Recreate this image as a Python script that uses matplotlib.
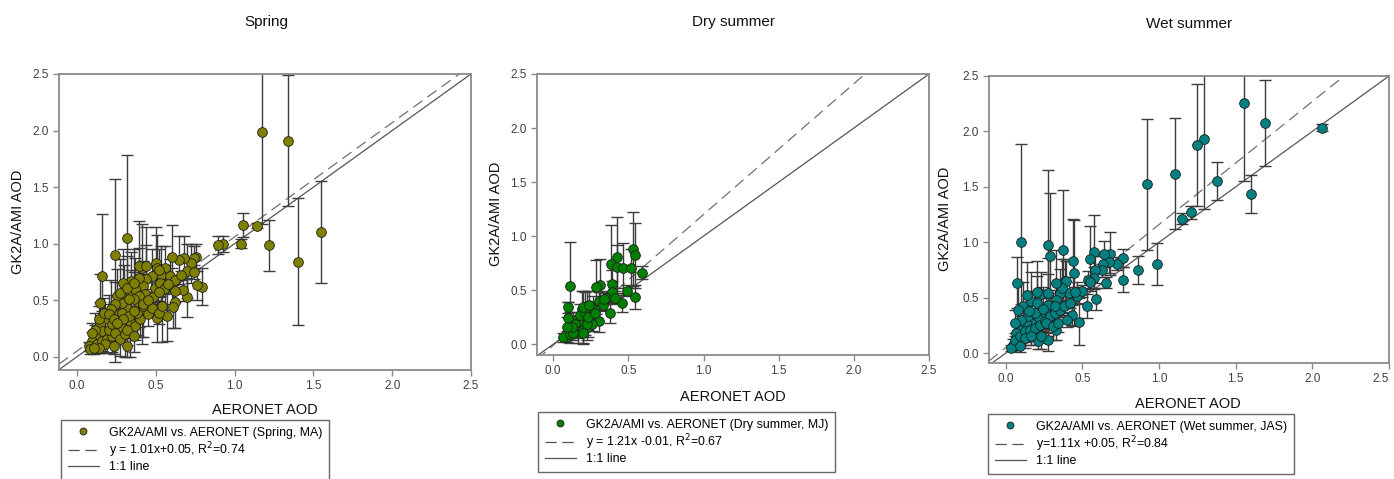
import numpy as np
import matplotlib
matplotlib.use("Agg")
import matplotlib.pyplot as plt
from matplotlib.lines import Line2D

plt.rcParams['font.family'] = ['Liberation Sans', 'DejaVu Sans']

# ---------------- data ----------------
titles = ["Spring", "Dry summer", "Wet summer"]
legend_point_labels = ["GK2A/AMI vs. AERONET (Spring, MA)",
                       "GK2A/AMI vs. AERONET (Dry summer, MJ)",
                       "GK2A/AMI vs. AERONET (Wet summer, JAS)"]
legend_fit_labels = ["y = 1.01x+0.05, R$^2$=0.74",
                     "y = 1.21x -0.01, R$^2$=0.67",
                     "y=1.11x +0.05, R$^2$=0.84"]
fit_slopes = [1.01, 1.21, 1.11]
fit_intercepts = [0.05, -0.01, 0.05]
tick_values = [0.0, 0.5, 1.0, 1.5, 2.0, 2.5]
tick_labels = ["0.0", "0.5", "1.0", "1.5", "2.0", "2.5"]

spring_x = [1.174, 1.339, 1.548, 1.405, 1.216, 1.144, 1.055, 1.04, 0.925, 0.895,
            0.79, 0.764, 0.755, 0.745, 0.72, 0.70, 0.745, 0.70, 0.675, 0.68,
            0.648, 0.60, 0.62, 0.61, 0.57, 0.51, 0.315, 0.243, 0.159, 0.50,
            0.51, 0.41, 0.39, 0.44, 0.56, 0.534, 0.59, 0.475, 0.437, 0.42,
            0.34, 0.29, 0.295, 0.34, 0.37, 0.495, 0.527, 0.56, 0.60, 0.62,
            0.47, 0.443, 0.39, 0.41, 0.36, 0.316, 0.285, 0.253, 0.243, 0.217,
            0.264, 0.306, 0.338, 0.37, 0.40, 0.453, 0.475, 0.517, 0.538, 0.432,
            0.39, 0.18, 0.148, 0.137, 0.158, 0.116, 0.095, 0.074, 0.084, 0.127,
            0.158, 0.19, 0.22, 0.253, 0.285, 0.20, 0.22, 0.243, 0.274, 0.306,
            0.316, 0.18, 0.137, 0.105, 0.232, 0.116, 0.095, 0.169, 0.20, 0.232,
            0.148, 0.274, 0.316, 0.36, 0.38, 0.36, 0.316, 0.42, 0.327, 0.285,
            0.517, 0.39, 0.36, 0.33, 0.36, 0.42, 0.48, 0.55, 0.62, 0.29,
            0.25, 0.45, 0.52, 0.58, 0.66]
spring_y = [1.99, 1.91, 1.10, 0.84, 0.985, 1.16, 1.165, 1.00, 1.00, 0.985,
            0.62, 0.63, 0.88, 0.875, 0.825, 0.76, 0.75, 0.525, 0.59, 0.875,
            0.855, 0.885, 0.48, 0.44, 0.36, 0.34, 1.05, 0.90, 0.71, 0.825,
            0.78, 0.785, 0.80, 0.80, 0.78, 0.72, 0.71, 0.71, 0.69, 0.625,
            0.67, 0.65, 0.565, 0.565, 0.595, 0.61, 0.655, 0.61, 0.625, 0.58,
            0.52, 0.477, 0.463, 0.42, 0.40, 0.43, 0.477, 0.535, 0.463, 0.42,
            0.375, 0.345, 0.315, 0.27, 0.33, 0.375, 0.43, 0.39, 0.45, 0.55,
            0.535, 0.33, 0.285, 0.33, 0.227, 0.183, 0.14, 0.094, 0.07, 0.11,
            0.14, 0.153, 0.183, 0.227, 0.257, 0.24, 0.285, 0.21, 0.153, 0.197,
            0.24, 0.11, 0.08, 0.08, 0.094, 0.24, 0.21, 0.39, 0.375, 0.33,
            0.477, 0.565, 0.61, 0.507, 0.39, 0.183, 0.094, 0.45, 0.507, 0.39,
            0.77, 0.70, 0.655, 0.36, 0.40, 0.47, 0.53, 0.60, 0.68, 0.33,
            0.30, 0.50, 0.57, 0.64, 0.72]
spring_err = [0.82, 0.58, 0.45, 0.56, 0.225, 0.02, 0.11, 0.04, 0.07, 0.08,
              0.16, 0.13, 0.12, 0.10, 0.17, 0.24, 0.06, 0.17, 0.10, 0.19,
              0.21, 0.28, 0.23, 0.19, 0.22, 0.21, 0.73, 0.67, 0.55, 0.32,
              0.30, 0.39, 0.40, 0.35, 0.20, 0.26, 0.15, 0.24, 0.30, 0.22,
              0.26, 0.30, 0.25, 0.20, 0.28, 0.18, 0.12, 0.20, 0.16, 0.10,
              0.14, 0.12, 0.20, 0.31, 0.15, 0.22, 0.18, 0.24, 0.20, 0.26,
              0.16, 0.18, 0.32, 0.12, 0.16, 0.10, 0.08, 0.10, 0.32, 0.15,
              0.12, 0.14, 0.20, 0.12, 0.18, 0.10, 0.08, 0.04, 0.05, 0.06,
              0.10, 0.12, 0.14, 0.08, 0.10, 0.09, 0.12, 0.26, 0.15, 0.20,
              0.14, 0.08, 0.05, 0.06, 0.07, 0.15, 0.09, 0.13, 0.17, 0.15,
              0.25, 0.30, 0.28, 0.24, 0.20, 0.14, 0.10, 0.28, 0.16, 0.12,
              0.18, 0.26, 0.30, 0.06, 0.05, 0.05, 0.04, 0.05, 0.04, 0.05,
              0.04, 0.04, 0.04, 0.05, 0.04]

dry_x = [0.533, 0.542, 0.59, 0.422, 0.382, 0.422, 0.467, 0.52, 0.389, 0.389,
         0.489, 0.544, 0.458, 0.38, 0.311, 0.284, 0.111, 0.096, 0.302, 0.351,
         0.411, 0.329, 0.302, 0.222, 0.189, 0.267, 0.244, 0.211, 0.178, 0.156,
         0.133, 0.111, 0.10, 0.089, 0.067, 0.111, 0.144, 0.167, 0.20, 0.233,
         0.256, 0.20, 0.133, 0.227, 0.122, 0.178, 0.211, 0.338, 0.233, 0.278,
         0.089, 0.20, 0.24]
dry_y = [0.88, 0.824, 0.66, 0.806, 0.744, 0.716, 0.704, 0.704, 0.56, 0.485,
         0.494, 0.438, 0.377, 0.293, 0.552, 0.53, 0.537, 0.34, 0.40, 0.43,
         0.43, 0.36, 0.216, 0.352, 0.33, 0.33, 0.284, 0.238, 0.19, 0.145,
         0.22, 0.176, 0.244, 0.068, 0.062, 0.093, 0.19, 0.114, 0.13, 0.16,
         0.19, 0.10, 0.10, 0.19, 0.16, 0.27, 0.284, 0.42, 0.253, 0.284,
         0.16, 0.34, 0.36]
dry_err = [0.345, 0.30, 0.06, 0.37, 0.36, 0.20, 0.23, 0.18, 0.13, 0.10,
           0.05, 0.11, 0.08, 0.10, 0.24, 0.25, 0.41, 0.05, 0.08, 0.06,
           0.06, 0.05, 0.10, 0.14, 0.16, 0.12, 0.08, 0.10, 0.07, 0.09,
           0.08, 0.12, 0.15, 0.05, 0.04, 0.08, 0.06, 0.10, 0.12, 0.09,
           0.07, 0.10, 0.06, 0.15, 0.07, 0.10, 0.20, 0.05, 0.12, 0.10,
           0.09, 0.15, 0.13]

wet_x = [2.066, 1.694, 1.551, 1.597, 1.378, 1.295, 1.245, 1.105, 0.923, 1.208,
         1.147, 0.985, 0.862, 0.764, 0.764, 0.724, 0.68, 0.676, 0.643, 0.632,
         0.626, 0.654, 0.573, 0.551, 0.582, 0.575, 0.538, 0.547, 0.589, 0.53,
         0.477, 0.444, 0.438, 0.372, 0.291, 0.278, 0.096, 0.074, 0.228, 0.387,
         0.409, 0.464, 0.431, 0.392, 0.352, 0.33, 0.308, 0.276, 0.265, 0.232,
         0.20, 0.166, 0.133, 0.10, 0.068, 0.046, 0.035, 0.057, 0.09, 0.123,
         0.155, 0.188, 0.221, 0.254, 0.287, 0.319, 0.352, 0.381, 0.418, 0.265,
         0.144, 0.112, 0.079, 0.166, 0.20, 0.276, 0.319, 0.276, 0.21, 0.123,
         0.09, 0.33, 0.308, 0.341, 0.396, 0.232, 0.166, 0.188, 0.10, 0.057,
         0.462, 0.368, 0.33, 0.50, 0.45, 0.24, 0.15, 0.20, 0.14]
wet_y = [2.033, 2.078, 2.256, 1.434, 1.554, 1.93, 1.876, 1.62, 1.524, 1.27,
         1.21, 0.80, 0.75, 0.663, 0.86, 0.807, 0.898, 0.82, 0.895, 0.80,
         0.747, 0.633, 0.916, 0.852, 0.753, 0.678, 0.663, 0.639, 0.488, 0.422,
         0.283, 0.723, 0.828, 0.934, 0.873, 0.973, 1.00, 0.633, 0.533, 0.648,
         0.542, 0.542, 0.346, 0.654, 0.542, 0.482, 0.422, 0.437, 0.361, 0.331,
         0.316, 0.271, 0.271, 0.211, 0.181, 0.075, 0.045, 0.12, 0.15, 0.196,
         0.211, 0.226, 0.256, 0.286, 0.331, 0.361, 0.392, 0.422, 0.452, 0.271,
         0.331, 0.422, 0.392, 0.467, 0.452, 0.542, 0.422, 0.12, 0.105, 0.135,
         0.06, 0.211, 0.241, 0.271, 0.301, 0.15, 0.15, 0.361, 0.301, 0.271,
         0.512, 0.587, 0.633, 0.56, 0.55, 0.40, 0.38, 0.55, 0.52]
wet_err = [0.03, 0.39, 0.70, 0.17, 0.17, 0.63, 0.55, 0.50, 0.59, 0.06,
           0.05, 0.19, 0.13, 0.11, 0.08, 0.06, 0.19, 0.10, 0.12, 0.08,
           0.06, 0.05, 0.33, 0.29, 0.12, 0.10, 0.08, 0.06, 0.10, 0.11,
           0.21, 0.48, 0.38, 0.54, 0.57, 0.68, 0.886, 0.23, 0.20, 0.20,
           0.14, 0.10, 0.09, 0.18, 0.22, 0.15, 0.12, 0.28, 0.14, 0.24,
           0.12, 0.20, 0.15, 0.12, 0.10, 0.05, 0.03, 0.06, 0.08, 0.10,
           0.09, 0.12, 0.08, 0.10, 0.06, 0.07, 0.05, 0.06, 0.05, 0.09,
           0.16, 0.22, 0.25, 0.26, 0.24, 0.32, 0.15, 0.10, 0.07, 0.09,
           0.05, 0.09, 0.12, 0.08, 0.07, 0.11, 0.08, 0.18, 0.14, 0.12,
           0.06, 0.26, 0.30, 0.05, 0.05, 0.20, 0.18, 0.28, 0.30]

colors = ["#808000", "#008000", "#008080"]

# ---------------- layout (pixels) ----------------
W, H = 1394, 479
fig = plt.figure(figsize=(W / 100, H / 100), dpi=100)

def fx(px):
    return px / W

def fy(py):
    return 1 - py / H

# left, top, right, bottom in px
axes_px = [(59, 74, 471, 370), (537, 74, 929, 355), (989, 76, 1389, 363)]
lims = [(-0.115, -0.118), (-0.108, -0.10), (-0.11, -0.09)]
title_px = [(266, 22), (733, 22), (1189, 24)]
xlabel_px = [(265, 410), (733, 397), (1188, 404)]
ylabel_px = [(18, 222), (496, 214), (945, 219)]
legend_px = [(61, 420), (538, 412), (988, 414)]

datasets = [(spring_x, spring_y, spring_err),
            (dry_x, dry_y, dry_err),
            (wet_x, wet_y, wet_err)]

frame_col = "#8a8a8a"
for i in range(3):
    l, t, r, b = axes_px[i]
    ax = fig.add_axes([fx(l), fy(b), fx(r) - fx(l), fy(t) - fy(b)])
    xs, ys, es = datasets[i]
    xlo, ylo = lims[i]
    ax.errorbar(xs, ys, yerr=es, fmt='none', ecolor='#3c3c3c', elinewidth=1.0,
                capsize=4, capthick=1.0, zorder=2)
    ax.plot(xs, ys, 'o', mfc=colors[i], mec='#1e1e1e', mew=0.6, ms=7,
            zorder=3, linestyle='none')
    line_x = np.array([xlo, 2.5])
    ax.plot(line_x, fit_slopes[i] * line_x + fit_intercepts[i],
            linestyle=(0, (9, 5)), color='#707070', lw=0.9, zorder=1)
    ax.plot(line_x, line_x, '-', color='#555555', lw=0.9, zorder=1)
    ax.set_xlim(xlo, 2.5)
    ax.set_ylim(ylo, 2.5)
    ax.set_xticks(tick_values)
    ax.set_xticklabels(tick_labels)
    ax.set_yticks(tick_values)
    ax.set_yticklabels(tick_labels)
    ax.tick_params(direction='out', length=4, width=1, color=frame_col,
                   labelsize=8.5, labelcolor='#404040', pad=3.5)
    for sp in ax.spines.values():
        sp.set_color(frame_col)
        sp.set_linewidth(1.3)
    if i == 2:
        # the last tick label sits at the figure edge; keep it inside
        ax.get_xticklabels()[-1].set_ha('right')

    fig.text(fx(title_px[i][0]), fy(title_px[i][1]), titles[i], ha='center',
             va='center', fontsize=11, color='#111111')
    fig.text(fx(xlabel_px[i][0]), fy(xlabel_px[i][1]), "AERONET AOD",
             ha='center', va='center', fontsize=10.5, color='#111111')
    fig.text(fx(ylabel_px[i][0]), fy(ylabel_px[i][1]), "GK2A/AMI AOD",
             ha='center', va='center', rotation=90, fontsize=10.5, color='#111111')

    handles = [Line2D([], [], marker='o', linestyle='none', mfc=colors[i],
                      mec='#1e1e1e', mew=0.6, ms=5),
               Line2D([], [], linestyle=(0, (9, 4.5)), color='#555555', lw=0.9),
               Line2D([], [], linestyle='-', color='#555555', lw=0.9)]
    labels = [legend_point_labels[i], legend_fit_labels[i], "1:1 line"]
    leg = fig.legend(handles, labels, loc='upper left',
                     bbox_to_anchor=(fx(legend_px[i][0]), fy(legend_px[i][1])),
                     bbox_transform=fig.transFigure, fontsize=8.9,
                     frameon=True, fancybox=False, edgecolor='#666666',
                     framealpha=1, borderaxespad=0, borderpad=0.55,
                     handlelength=2.5, handletextpad=0.8, labelspacing=0.1)
    leg.get_frame().set_linewidth(1.0)

fig.savefig("out.png", dpi=100)
